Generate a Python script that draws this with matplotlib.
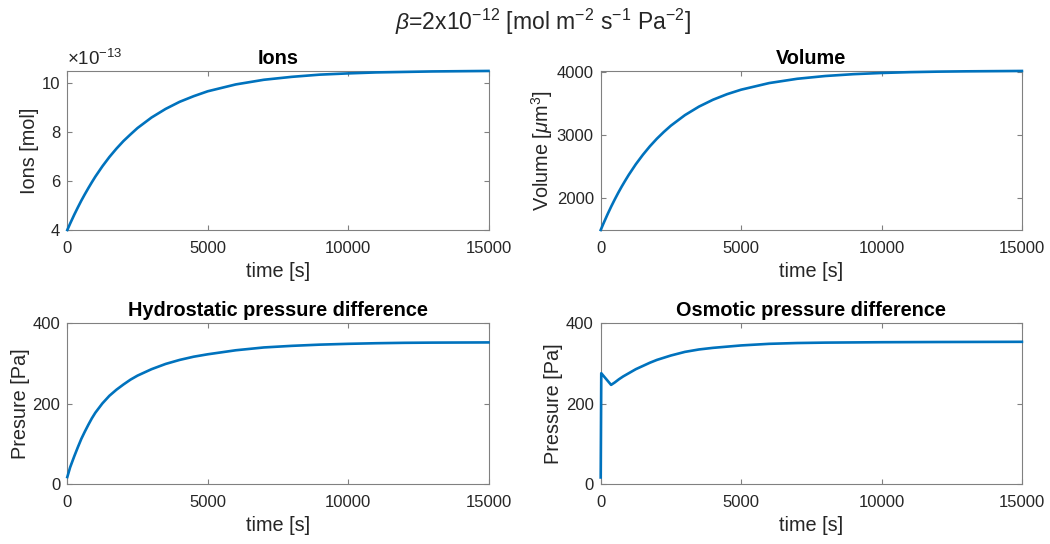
import numpy as np
import matplotlib
matplotlib.use("Agg")
import matplotlib.pyplot as plt

plt.rcParams["font.family"] = ["Liberation Sans", "DejaVu Sans"]
plt.rcParams["mathtext.fontset"] = "custom"
plt.rcParams["mathtext.rm"] = "Liberation Sans"
plt.rcParams["mathtext.it"] = "Liberation Sans:italic"
plt.rcParams["mathtext.bf"] = "Liberation Sans:bold"

# --- simulation output, sampled in time ---------------------------------
time_s = [0, 100, 250, 375, 500, 625, 750, 875, 1000, 1250, 1500, 1750, 2000,
          2250, 2500, 3000, 3500, 4000, 4500, 5000, 6000, 7000, 8000, 9000,
          10000, 11000, 12000, 13000, 15000]

# ions, in units of 1e-13 mol
ions_e13 = [4.00, 4.26, 4.63, 4.92, 5.20, 5.46, 5.71, 5.95, 6.18, 6.60, 6.98,
            7.32, 7.63, 7.90, 8.16, 8.59, 8.94, 9.23, 9.46, 9.66, 9.94, 10.13,
            10.25, 10.34, 10.39, 10.43, 10.45, 10.47, 10.49]

# cell volume, um^3
volume_um3 = [1500, 1605, 1755, 1873, 1984, 2090, 2190, 2284, 2375, 2542, 2691,
              2826, 2947, 3055, 3154, 3321, 3456, 3565, 3653, 3724, 3829, 3897,
              3941, 3970, 3989, 4002, 4010, 4015, 4021]

# hydrostatic pressure difference, Pa
hydro_pa = [18, 42, 70, 92, 113, 131, 148, 164, 178, 201, 220, 235, 248, 260,
            270, 286, 299, 309, 317, 323, 333, 340, 344, 347, 349, 350.5,
            351.5, 352, 352.5]

# osmotic pressure difference, Pa (own time grid: sharp jump at start)
time_osm_s = [0, 20, 370, 500, 650, 800, 1000, 1250, 1500, 1750, 2000, 2500,
              3000, 3500, 4000, 5000, 6000, 7000, 8000, 9000, 10000, 12000,
              15000]
osmotic_pa = [17, 276, 247, 253, 261, 268, 276, 286, 294, 302, 309, 320, 329,
              335, 339, 345, 349, 351, 352, 352.5, 353, 353.5, 354]

x_ticks = [0, 5000, 10000, 15000]

LINE_C = "#0072BD"
AX_C = "#808080"
TXT_C = "#262626"
TICK_FS = 12
LAB_FS = 14.3
TITLE_FS = 14.3
LW = 1.9

fig = plt.figure(figsize=(10.5, 5.44), dpi=100)

W = 421.2 / 1050
H_top = 159.3 / 544
H_bot = 161.0 / 544
pos = {
    "ions": [67.3 / 1050, (544 - 230.0) / 544, W, H_top],
    "vol": [600.7 / 1050, (544 - 230.0) / 544, W, H_top],
    "hyd": [67.3 / 1050, (544 - 484.3) / 544, W, H_bot],
    "osm": [600.7 / 1050, (544 - 484.3) / 544, W, H_bot],
}


def style(ax):
    for s in ax.spines.values():
        s.set_color(AX_C)
        s.set_linewidth(0.8)
    ax.tick_params(direction="in", length=3.5, width=0.8, color=AX_C,
                   labelcolor=TXT_C, labelsize=TICK_FS, top=True, right=True)
    ax.tick_params(axis="x", pad=8)
    ax.tick_params(axis="y", pad=5)
    ax.set_xlim(0, 15000)
    ax.set_xticks(x_ticks)
    ax.set_xlabel("time [s]", fontsize=LAB_FS, color=TXT_C, labelpad=4)


def curve(ax, x, y):
    ax.plot(x, y, color=LINE_C, lw=LW, zorder=3, clip_on=False,
            solid_joinstyle="round")


ax1 = fig.add_axes(pos["ions"])
curve(ax1, time_s, ions_e13)
style(ax1)
ax1.set_ylim(4, 10.5)
ax1.set_yticks([4, 6, 8, 10])
ax1.set_ylabel("Ions [mol]", fontsize=LAB_FS, color=TXT_C, labelpad=2)
ax1.set_title("Ions", fontsize=TITLE_FS, fontweight="bold", pad=5)
ax1.text(0.0, 1.012, r"$\times$10$^{-13}$", transform=ax1.transAxes,
         fontsize=13.5, color=TXT_C, ha="left", va="bottom")

ax2 = fig.add_axes(pos["vol"])
curve(ax2, time_s, volume_um3)
style(ax2)
ax2.set_ylim(1500, 4025)
ax2.set_yticks([2000, 3000, 4000])
ax2.set_ylabel(r"Volume [$\mu$m$^3$]", fontsize=LAB_FS, color=TXT_C,
               labelpad=1)
ax2.set_title("Volume", fontsize=TITLE_FS, fontweight="bold", pad=5)

ax3 = fig.add_axes(pos["hyd"])
curve(ax3, time_s, hydro_pa)
style(ax3)
ax3.set_ylim(0, 400)
ax3.set_yticks([0, 200, 400])
ax3.set_ylabel("Presure [Pa]", fontsize=LAB_FS, color=TXT_C, labelpad=2)
ax3.set_title("Hydrostatic pressure difference", fontsize=TITLE_FS,
              fontweight="bold", pad=5)

ax4 = fig.add_axes(pos["osm"])
curve(ax4, time_osm_s, osmotic_pa)
style(ax4)
ax4.set_ylim(0, 400)
ax4.set_yticks([0, 200, 400])
ax4.set_ylabel("Pressure [Pa]", fontsize=LAB_FS, color=TXT_C, labelpad=2)
ax4.set_title("Osmotic pressure difference", fontsize=TITLE_FS,
              fontweight="bold", pad=5)

fig.text(543 / 1050, 1 - 22 / 544,
         r"$\mathit{\beta}$=2x10$^{-12}$ [mol m$^{-2}$ s$^{-1}$ Pa$^{-2}$]",
         fontsize=16.5, color=TXT_C, ha="center", va="center")

fig.savefig("out.png", dpi=100, facecolor="white")
